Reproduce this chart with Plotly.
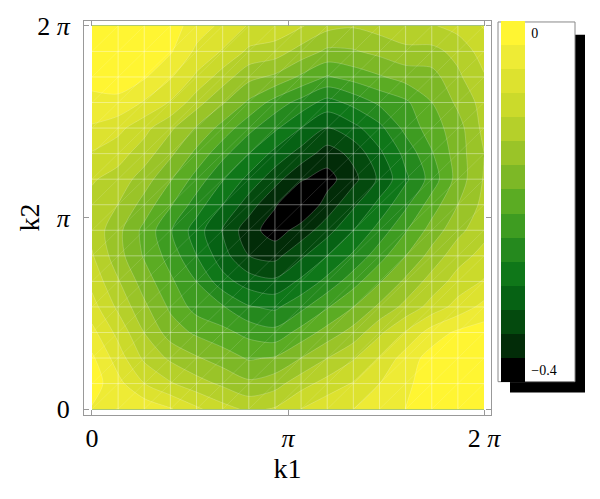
import plotly.graph_objects as go

# grid of sample points (k1 along x, k2 along y), 16 points from 0 to 2*pi
k1 = [0.0, 0.4189, 0.8378, 1.2566, 1.6755, 2.0944, 2.5133, 2.9322,
      3.3510, 3.7699, 4.1888, 4.6077, 5.0265, 5.4454, 5.8643, 6.2832]
k2 = [0.0, 0.4189, 0.8378, 1.2566, 1.6755, 2.0944, 2.5133, 2.9322,
      3.3510, 3.7699, 4.1888, 4.6077, 5.0265, 5.4454, 5.8643, 6.2832]

# values read row by row (one row per k2 sample, left to right in k1)
z_k2_00 = [-0.017, -0.014, -0.023, -0.040, -0.066, -0.089, -0.106, -0.097, -0.071, -0.051, -0.043, -0.029, -0.014, 0.003, 0.011, 0.017]
z_k2_01 = [0.000, -0.034, -0.071, -0.097, -0.117, -0.134, -0.151, -0.140, -0.111, -0.089, -0.069, -0.043, -0.020, 0.000, 0.006, 0.014]
z_k2_02 = [-0.009, -0.057, -0.106, -0.134, -0.154, -0.171, -0.189, -0.183, -0.157, -0.129, -0.103, -0.069, -0.029, -0.003, 0.006, 0.011]
z_k2_03 = [-0.034, -0.080, -0.129, -0.171, -0.191, -0.206, -0.223, -0.234, -0.203, -0.174, -0.146, -0.106, -0.069, -0.029, -0.009, 0.000]
z_k2_04 = [-0.060, -0.106, -0.151, -0.191, -0.226, -0.240, -0.269, -0.277, -0.251, -0.217, -0.186, -0.151, -0.120, -0.089, -0.060, -0.034]
z_k2_05 = [-0.080, -0.126, -0.171, -0.209, -0.243, -0.289, -0.314, -0.323, -0.294, -0.263, -0.226, -0.189, -0.151, -0.117, -0.089, -0.069]
z_k2_06 = [-0.097, -0.146, -0.189, -0.226, -0.271, -0.317, -0.357, -0.366, -0.334, -0.300, -0.266, -0.226, -0.186, -0.146, -0.111, -0.091]
z_k2_07 = [-0.109, -0.149, -0.194, -0.240, -0.286, -0.331, -0.374, -0.400, -0.374, -0.340, -0.300, -0.260, -0.217, -0.174, -0.137, -0.109]
z_k2_08 = [-0.109, -0.129, -0.169, -0.211, -0.257, -0.300, -0.343, -0.383, -0.414, -0.374, -0.334, -0.291, -0.249, -0.200, -0.157, -0.120]
z_k2_09 = [-0.097, -0.111, -0.143, -0.183, -0.226, -0.269, -0.309, -0.346, -0.383, -0.397, -0.366, -0.323, -0.277, -0.231, -0.174, -0.126]
z_k2_10 = [-0.074, -0.089, -0.114, -0.151, -0.194, -0.234, -0.271, -0.309, -0.340, -0.371, -0.349, -0.306, -0.263, -0.217, -0.171, -0.129]
z_k2_11 = [-0.046, -0.063, -0.091, -0.123, -0.160, -0.197, -0.234, -0.266, -0.300, -0.329, -0.309, -0.280, -0.234, -0.200, -0.169, -0.120]
z_k2_12 = [-0.026, -0.020, -0.046, -0.074, -0.117, -0.154, -0.191, -0.226, -0.254, -0.283, -0.263, -0.237, -0.220, -0.186, -0.151, -0.117]
z_k2_13 = [0.000, -0.003, -0.011, -0.040, -0.077, -0.114, -0.149, -0.163, -0.191, -0.217, -0.203, -0.189, -0.174, -0.169, -0.134, -0.103]
z_k2_14 = [0.009, 0.006, 0.000, -0.011, -0.049, -0.074, -0.106, -0.114, -0.140, -0.163, -0.160, -0.149, -0.137, -0.137, -0.120, -0.086]
z_k2_15 = [0.014, 0.011, 0.006, 0.000, -0.029, -0.049, -0.074, -0.080, -0.097, -0.120, -0.126, -0.117, -0.106, -0.103, -0.089, -0.069]

z_rows = [z_k2_00, z_k2_01, z_k2_02, z_k2_03, z_k2_04, z_k2_05, z_k2_06, z_k2_07,
          z_k2_08, z_k2_09, z_k2_10, z_k2_11, z_k2_12, z_k2_13, z_k2_14, z_k2_15]

# legend: 15 bands, centred on -0.4 ... 0
band_lo = -0.4
band_hi = 0.0
n_bands = 15
band_colors = ["#000000", "#022c08", "#044a0e", "#066214", "#0f7719", "#25891e",
               "#3e9c21", "#5bac23", "#7db826", "#9ac428", "#b5d02a", "#cbda2b",
               "#dde22f", "#eeeb35", "#fff532"]
legend_tickvals = [-0.4, 0.0]
legend_ticktext = ["\u22120.4", "0"]

tick_vals = [0.0, 3.14159265, 6.28318531]
tick_text = ["0", "<i>\u03c0</i>", "2 <i>\u03c0</i>"]

step = (band_hi - band_lo) / (n_bands - 1)
fill_scale = [[i / (n_bands - 1), c] for i, c in enumerate(band_colors)]
bar_scale = []
for i, c in enumerate(band_colors):
    bar_scale += [[i / n_bands, c], [(i + 1) / n_bands, c]]

# plot area geometry (pixels)
L, R, T, B = 84, 109, 13, 84
W, H = 600, 499
pw = W - L - R
ph = H - T - B


def px_x(p):
    return (p - L) / pw


def px_y(p):
    return (H - B - p) / ph


fig = go.Figure()
fig.add_trace(go.Contour(
    x=k1, y=k2, z=z_rows,
    colorscale=fill_scale,
    autocontour=False,
    contours=dict(start=band_lo + step / 2, end=band_hi - step / 2, size=step,
                  coloring="fill", showlines=True),
    line=dict(color="rgba(255,255,255,0.35)", width=0.6, smoothing=0.8),
    hoverinfo="skip",
    showscale=False,
))

# mesh lines through the sample points
mx, my = [], []
for xv in k1[1:-1]:
    mx += [xv, xv, None]
    my += [k2[0], k2[-1], None]
for yv in k2[1:-1]:
    mx += [k1[0], k1[-1], None]
    my += [yv, yv, None]
fig.add_trace(go.Scatter(x=mx, y=my, mode="lines",
                         line=dict(color="rgba(255,255,255,0.38)", width=1),
                         hoverinfo="skip", showlegend=False))

# faint diagonal seams of the triangulated cells
n = len(k1)
dx, dy = [], []
for off in range(-(n - 2), n - 1):
    i0, j0 = max(0, off), max(0, -off)
    m = n - 1 - abs(off)
    dx += [k1[i0], k1[i0 + m], None]
    dy += [k2[j0], k2[j0 + m], None]
fig.add_trace(go.Scatter(x=dx, y=dy, mode="lines",
                         line=dict(color="rgba(255,255,255,0.16)", width=0.8),
                         hoverinfo="skip", showlegend=False))

# invisible sample markers that carry the banded colour legend
sx, sy, sz = [], [], []
for j, row in enumerate(z_rows):
    for i, v in enumerate(row):
        sx.append(k1[i])
        sy.append(k2[j])
        sz.append(v)
fig.add_trace(go.Scatter(
    x=sx, y=sy, mode="markers", hoverinfo="skip", showlegend=False,
    marker=dict(
        size=1, opacity=0, color=sz, colorscale=bar_scale,
        cmin=band_lo - step / 2, cmax=band_hi + step / 2, showscale=True,
        colorbar=dict(
            x=px_x(501), xanchor="left", xpad=0,
            y=px_y(197.5), yanchor="middle", ypad=0,
            thickness=24, thicknessmode="pixels",
            len=361, lenmode="pixels",
            outlinewidth=0, borderwidth=0, bgcolor="rgba(0,0,0,0)",
            tickvals=legend_tickvals, ticktext=legend_ticktext,
            ticks="outside", ticklen=4, tickcolor="rgba(0,0,0,0)",
            tickfont=dict(family="Liberation Serif", size=14, color="black"),
        ),
    ),
))

# legend box with drop shadow
fig.add_shape(type="rect", xref="paper", yref="paper",
              x0=px_x(510), x1=px_x(585), y0=px_y(392), y1=px_y(27),
              fillcolor="black", line=dict(width=0), layer="above")
fig.add_shape(type="rect", xref="paper", yref="paper",
              x0=px_x(498), x1=px_x(575), y0=px_y(381), y1=px_y(14),
              fillcolor="white", line=dict(color="#888888", width=1), layer="above")

# y-axis title placed as rotated text
fig.add_annotation(text="k2", xref="paper", yref="y", x=px_x(30), y=3.14159265,
                   textangle=-90, showarrow=False, xanchor="center", yanchor="middle",
                   font=dict(family="Liberation Serif", size=28, color="black"))

axis_common = dict(
    tickvals=tick_vals, ticktext=tick_text,
    ticks="inside", ticklen=5, tickcolor="#999999", tickwidth=1,
    showline=True, linecolor="#999999", linewidth=1, mirror="ticks",
    showgrid=False, zeroline=False,
    tickfont=dict(family="Liberation Serif", size=26, color="black"),
)

fig.update_layout(
    width=W, height=H, autosize=False,
    margin=dict(l=L, r=R, t=T, b=B, pad=0),
    paper_bgcolor="white", plot_bgcolor="white",
    showlegend=False,
    xaxis=dict(range=[-0.128, 6.395], ticklabelstandoff=0,
               title=dict(text="k1", font=dict(family="Liberation Serif", size=28, color="black"), standoff=3),
               **axis_common),
    yaxis=dict(range=[-0.096, 6.363], ticklabelstandoff=8, **axis_common),
)

fig.write_html("out.html")
